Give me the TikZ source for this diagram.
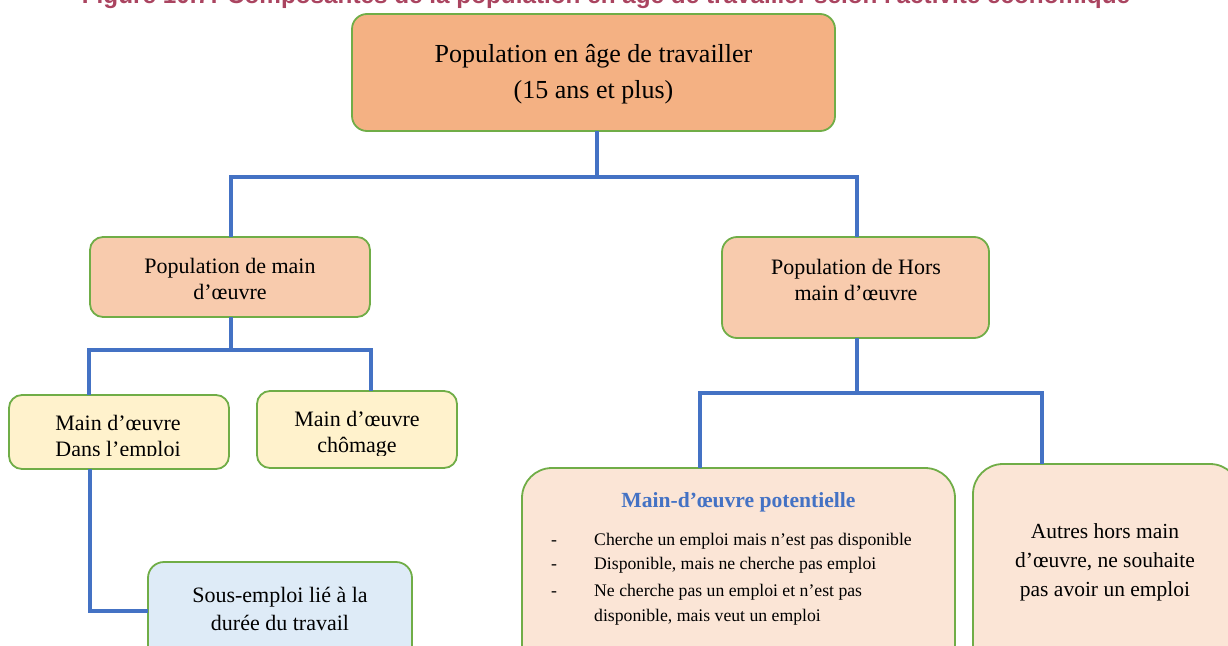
\documentclass[tikz,border=0pt]{standalone}
\usepackage{fontspec}
\setmainfont{Liberation Serif}
\newfontfamily\titlefont{Liberation Sans}
\usetikzlibrary{calc}
\definecolor{boxgreen}{HTML}{70AD47}
\definecolor{connblue}{HTML}{4472C4}
\definecolor{fillA}{HTML}{F4B183}
\definecolor{fillB}{HTML}{F8CBAD}
\definecolor{fillC}{HTML}{FFF2CC}
\definecolor{fillD}{HTML}{DEEBF7}
\definecolor{fillE}{HTML}{FBE5D6}
\definecolor{titlered}{RGB}{170,68,96}
\begin{document}
\begin{tikzpicture}[x=1pt,y=-1pt,
  box/.style={draw=boxgreen, line width=1.8pt, inner sep=0pt, outer sep=0pt},
  txt/.style={align=center, inner sep=0pt, text=black},
  conn/.style={draw=connblue, line width=4.6pt, line join=miter},
  fA/.style={font=\fontsize{26}{36}\selectfont},
  fB/.style={font=\fontsize{22}{26}\selectfont},
  fL/.style={font=\fontsize{17.7}{20}\selectfont}]
\useasboundingbox (0,0) rectangle (1228,645);
\clip (0,0) rectangle (1228,645);

% title (cropped at the top of the picture)
\node[anchor=base, inner sep=0pt, text=titlered, font=\titlefont\bfseries] (title) at (606,3.5)
  {\resizebox{1048pt}{!}{Figure 10.7: Composantes de la population en âge de travailler selon l'activité économique}};

% boxes
\node[box, fill=fillA, rounded corners=15pt, minimum width=483pt, minimum height=117pt] (top) at (593.5,72.5) {};
\node[box, fill=fillB, rounded corners=13pt, minimum width=280pt, minimum height=80pt] (pm) at (230,277) {};
\node[box, fill=fillB, rounded corners=15pt, minimum width=267pt, minimum height=101pt] (phm) at (855.5,287.5) {};
\node[box, fill=fillC, rounded corners=13pt, minimum width=220pt, minimum height=74pt] (emp) at (119,432) {};
\node[box, fill=fillC, rounded corners=13pt, minimum width=200pt, minimum height=77pt] (cho) at (357,429.5) {};
\node[box, fill=fillD, rounded corners=16pt, minimum width=264pt, minimum height=118pt] (sous) at (280,621) {};
\node[box, fill=fillE, rounded corners=30pt, minimum width=433pt, minimum height=212pt] (pot) at (738.5,574) {};
\node[box, fill=fillE, rounded corners=30pt, minimum width=267pt, minimum height=216pt] (aut) at (1106.5,572) {};

% texts
\node[txt, fA] (toptext) at (593.5,74) {Population en âge de travailler\\(15 ans et plus)};
\node[txt, fB] (pmtext) at (230,279) {Population de main\\d’œuvre};
\node[txt, fB] (phmtext) at (856,280) {Population de Hors\\main d’œuvre};
\begin{scope}
  \clip (0,380) rectangle (470,455);
  \node[txt, fB] (emptext) at (118,438) {Main d’œuvre\\Dans l’emploi};
  \node[txt, fB] (chotext) at (357,434.5) {Main d’œuvre\\chômage};
\end{scope}
\node[txt, font=\fontsize{22}{28}\selectfont] (soustext) at (280,609) {Sous-emploi lié à la\\durée du travail};
\node[txt, text=connblue, font=\bfseries\fontsize{21.6}{25}\selectfont] (pottitle) at (738.5,502) {Main-d’œuvre potentielle};
\node[txt, fL, anchor=base west] (b1) at (594,545) {Cherche un emploi mais n’est pas disponible};
\node[txt, fL, anchor=base west] (b2) at (594,569) {Disponible, mais ne cherche pas emploi};
\node[txt, fL, anchor=base west] (b3) at (594,596) {Ne cherche pas un emploi et n’est pas};
\node[txt, fL, anchor=base west] (b4) at (594,621) {disponible, mais veut un emploi};
\node[txt, fL, anchor=base] (d1) at (554,545) {-};
\node[txt, fL, anchor=base] (d2) at (554,569) {-};
\node[txt, fL, anchor=base] (d3) at (554,596) {-};
\node[txt, font=\fontsize{21.5}{29}\selectfont] (auttext) at (1105,562) {Autres hors main\\d’œuvre, ne souhaite\\pas avoir un emploi};

% connectors
\coordinate (j1) at (597,177);
\draw[conn] (top.south -| j1) -- (j1);
\draw[conn] (pm.north -| 231,0) -- (231,177) -- (857,177) -- (phm.north -| 857,0);
\coordinate (j2l) at (89,350);
\coordinate (j2r) at (371,350);
\draw[conn] (pm.south -| 231,0) -- (231,350);
\draw[conn] (emp.north -| j2l) -- (j2l) -- (j2r) -- (cho.north -| j2r);
\coordinate (j3l) at (700,393);
\coordinate (j3r) at (1042,393);
\draw[conn] (phm.south -| 857,0) -- (857,393);
\draw[conn] (pot.north -| j3l) -- (j3l) -- (j3r) -- (aut.north -| j3r);
\coordinate (k) at (90,611);
\draw[conn] (emp.south -| k) -- (k) -- (sous.west |- k);
\end{tikzpicture}
\end{document}
